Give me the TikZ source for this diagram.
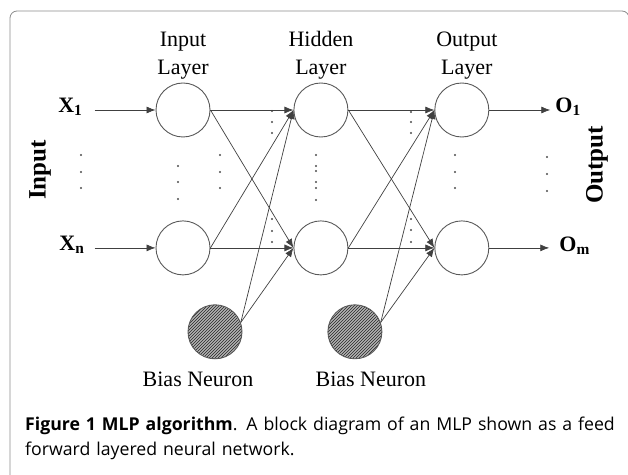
\documentclass[tikz,border=0pt]{standalone}
\usepackage{fontspec}
\setmainfont{Liberation Serif}
\newfontfamily\capfont{Open Sans}
\usetikzlibrary{positioning,arrows.meta,patterns}

\begin{document}
\begin{tikzpicture}[x=1pt, y=1pt,
        neuron/.style={circle, draw=black!65, line width=0.9pt, minimum size=54pt, inner sep=0pt},
        biasneuron/.style={neuron, preaction={fill=black!30}, pattern=north east lines, pattern color=black!85},
        feed/.style={draw=black!75, line width=0.7pt, -{Latex[length=9pt,width=7pt]}},
        lbl/.style={font=\fontsize{22}{28}\selectfont, align=center, inner sep=0pt},
        io/.style={font=\fontsize{22}{24}\selectfont\bfseries, inner sep=0pt},
        side/.style={font=\fontsize{25}{28}\selectfont\bfseries, rotate=90, inner sep=0pt}]
        \useasboundingbox (0,0) rectangle (628,474);

        % FRAME
        % -----------------
        \draw[black!45, line width=0.8pt, rounded corners=7pt] (10,-20) -- (10,463) -- (629,463) -- (629,-20);

        % NODES
        % -----------------
        \node[neuron] (in1) at (183,364) {};
        \node[neuron, below=83pt of in1] (in2) {};

        \node[neuron, right=83pt of in1] (hid1) {};
        \node[neuron, below=83pt of hid1] (hid2) {};

        \node[neuron, right=86pt of hid1] (out1) {};
        \node[neuron, below=83pt of out1] (out2) {};

        \node[biasneuron, below=29pt of in2, xshift=32pt] (bias1) {};
        \node[biasneuron, below=29pt of hid2, xshift=34pt] (bias2) {};

        \node[lbl, above=3pt of in1] (in_lbl) {Input\\Layer};
        \node[lbl, above=3pt of hid1] (hid_lbl) {Hidden\\Layer};
        \node[lbl, above=3pt of out1, xshift=5pt] (out_lbl) {Output\\Layer};

        \node[lbl, below=12pt of bias1, xshift=-17pt] (bias1_lbl) {Bias Neuron};
        \node[lbl, below=12pt of bias2, xshift=16pt] (bias2_lbl) {Bias Neuron};

        \node[io, left=73pt of in1, yshift=3pt] (x1) {X\textsubscript{1}};
        \node[io, left=71pt of in2, yshift=3pt] (xn) {X\textsubscript{n}};
        \node[io, right=66pt of out1, yshift=3pt] (o1) {O\textsubscript{1}};
        \node[io, right=70pt of out2, yshift=2pt] (om) {O\textsubscript{m}};

        \node[side] (input) at (40,304) {Input};
        \node[side] (output) at (597,309) {Output};

        % dots between the drawn units
        \foreach \x/\y in {81/155, 81/172, 81/188, 178/166, 178/182, 178/199,
                220/155, 220/172, 220/188, 272/111, 272/122, 272/133,
                272/219, 272/231, 272/242, 316/155, 316/166, 316/171,
                316/182, 316/188, 316/200, 411/112, 411/122, 411/133,
                411/219, 411/230, 411/242, 455/155, 455/172, 455/188,
                547/157, 547/174, 547/191}
            \fill[black!70] (\x,474-\y) circle (1.1pt);

        % CAPTION
        % -----------------
        \node[anchor=north west, inner sep=0pt, text width=600pt, align=left,
              font=\capfont\fontsize{17.7}{25}\selectfont] (caption) at (25,57.5)
            {\textbf{Figure 1 MLP algorithm}. A block diagram of an MLP shown as a feed\\forward layered neural network.};

        % EDGES
        % -----------------
        \draw[feed, shorten <=12pt] (x1.east |- in1) -- (in1);
        \draw[feed, shorten <=10pt] (xn.east |- in2) -- (in2);

        \draw[feed] (in1) -- (hid1);
        \draw[feed] (in1.east) -- (hid2.west);
        \draw[feed] (in2.east) -- (hid1.west);
        \draw[feed] (in2) -- (hid2);
        \draw[feed] (bias1.20) -- (hid1.west);
        \draw[feed] (bias1.20) -- (hid2.west);

        \draw[feed] (hid1) -- (out1);
        \draw[feed] (hid1.east) -- (out2.west);
        \draw[feed] (hid2.east) -- (out1.west);
        \draw[feed] (hid2) -- (out2);
        \draw[feed] (bias2.20) -- (out1.west);
        \draw[feed] (bias2.20) -- (out2.west);

        \draw[feed, shorten >=5pt] (out1) -- (o1.west |- out1);
        \draw[feed, shorten >=10pt] (out2) -- (om.west |- out2);

\end{tikzpicture}
\end{document}
